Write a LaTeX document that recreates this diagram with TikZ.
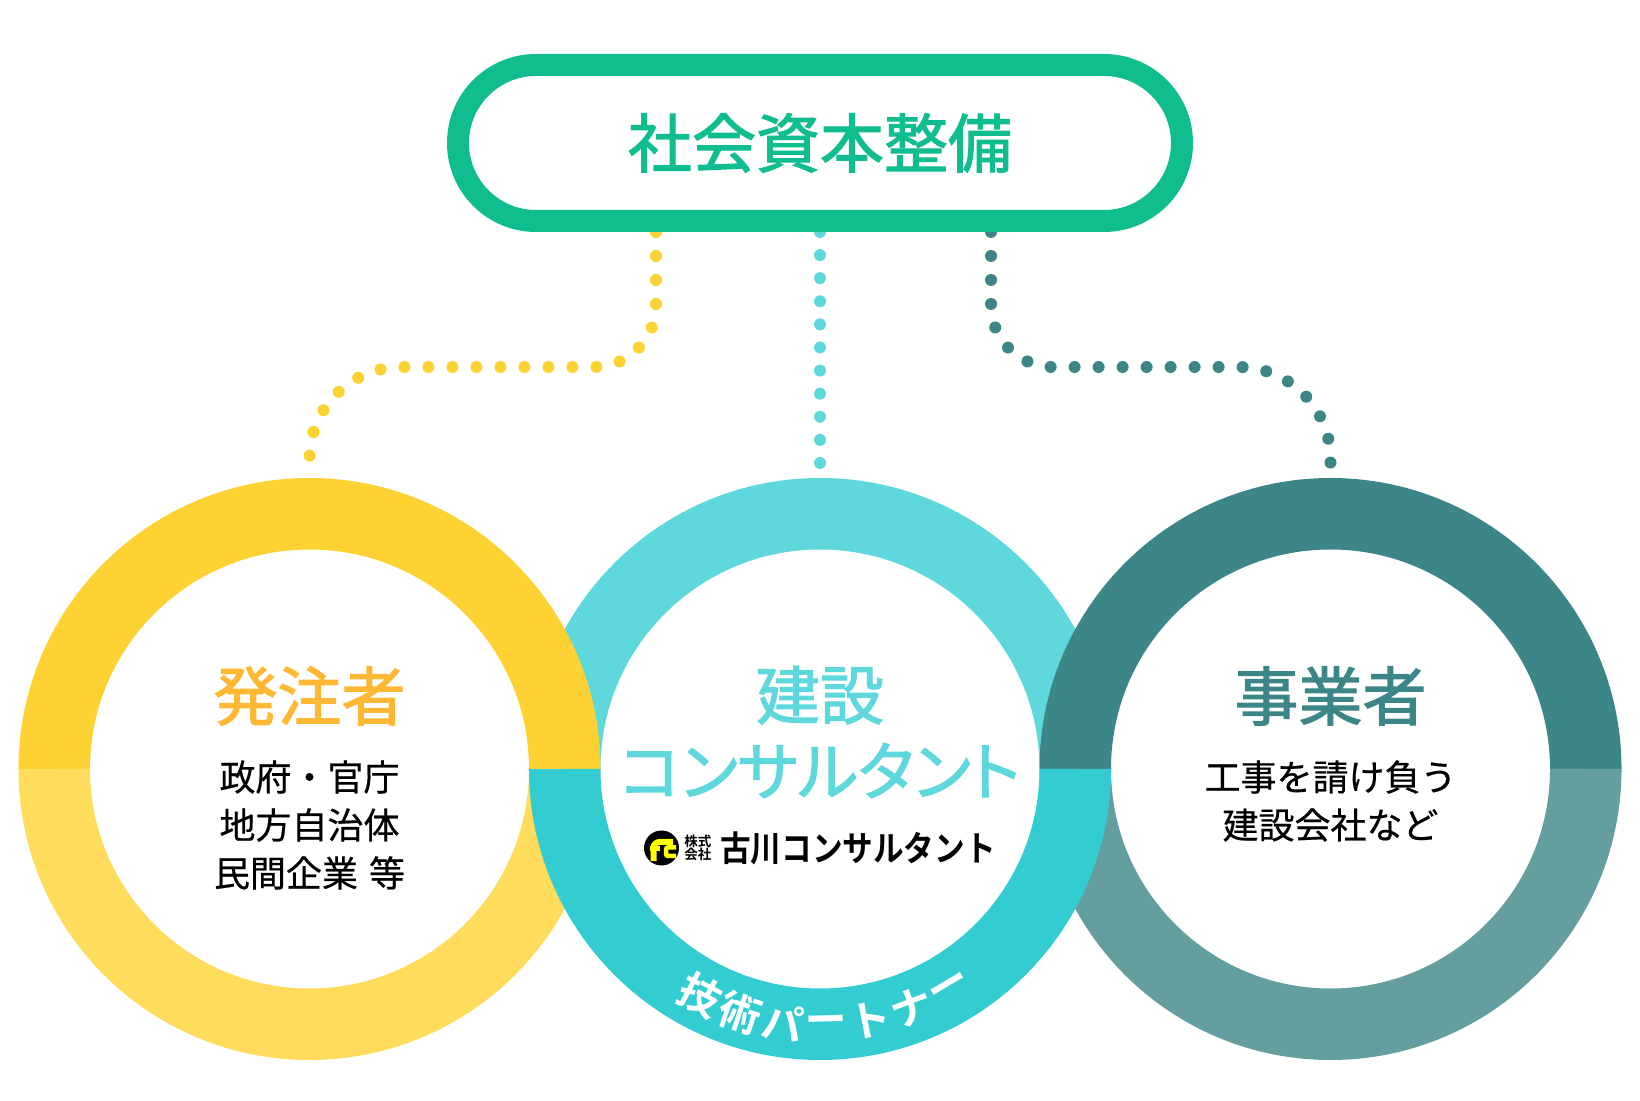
\documentclass[tikz,border=0pt]{standalone}
\usepackage{fontspec}
\usetikzlibrary{positioning,backgrounds}
\newfontfamily\jpmed[RawFeature={+palt},FakeBold=1.8]{Noto Sans CJK JP}
\newfontfamily\jpfull[FakeBold=0.5]{Noto Sans CJK JP}
\newfontfamily\jpbold[BoldFont={Noto Sans CJK JP Bold}]{Noto Sans CJK JP}
\definecolor{pillgreen}{HTML}{0FBD8F}
\definecolor{orgtop}{HTML}{FFD233}
\definecolor{orgbot}{HTML}{FFDC5C}
\definecolor{orgtext}{HTML}{FFB833}
\definecolor{constop}{HTML}{5ED8DC}
\definecolor{consbot}{HTML}{33CDD1}
\definecolor{contop}{HTML}{3D8688}
\definecolor{conbot}{HTML}{649E9F}
\definecolor{logoyellow}{HTML}{FFFF00}
\newcommand{\bigfs}{\fontsize{64}{72}\selectfont}
\newcommand{\smallfs}{\fontsize{36}{48}\selectfont}
\begin{document}
\begin{tikzpicture}
[
x=1pt,y=1pt,
dotline/.style={line width=12pt,line cap=round,dash pattern=on 0pt off #1},
topring/.style={line width=71.5pt,#1},
ringbox/.style={circle,minimum size=582pt,inner sep=0pt},
bigtext/.style={font=\jpmed\bigfs,text=#1},
smalltext/.style={font=\jpfull\smallfs,align=center,text=black},
]
\useasboundingbox (0,0) rectangle (1640,1100);

%Place the nodes
\node[draw=pillgreen,line width=22pt,fill=white,rounded corners=78pt,minimum width=724pt,minimum height=156pt,inner sep=0pt] (pill) at (820,957) {};
\node[ringbox] (hatchu) at (309.5,331) {};
\node[ringbox] (cons) at (820,331) {};
\node[ringbox] (jigyo) at (1330.5,331) {};
\coordinate (ystart) at (656,868);
\coordinate (gstart) at (991,868);

%Draw the connections
\begin{scope}[on background layer]
\draw[dotline=24pt,orgtop,rounded corners=62pt] (ystart) -- (656,733) [rounded corners=92pt] -- (309.5,733) [sharp corners] -- (hatchu.north);
\draw[dotline=23.1pt,constop] (pill.south) -- (cons.north);
\draw[dotline=24pt,contop,rounded corners=62pt] (gstart) -- (991,733) [rounded corners=92pt] -- (1330.5,733) [sharp corners] -- (jigyo.north);
\end{scope}

%Draw the rings
\draw[topring=constop] ([shift={(180:255.25)}]cons) arc (180:0:255.25);
\draw[topring=orgtop] ([shift={(180:255.25)}]hatchu) arc (180:0:255.25);
\draw[topring=contop] ([shift={(180:255.25)}]jigyo) arc (180:0:255.25);
\draw[topring=orgbot] ([shift={(180:255.25)}]hatchu) arc (180:360:255.25);
\draw[topring=conbot] ([shift={(180:255.25)}]jigyo) arc (180:360:255.25);
\draw[topring=consbot] ([shift={(180:255.25)}]cons) arc (180:360:255.25);

%Text
\node[font=\jpmed\bigfs,text=pillgreen] (title) at (820,957) {社会資本整備};
\node[bigtext=orgtext] (hatchutitle) at (309.5,404) {発注者};
\node[smalltext] (hatchubody) at (309.5,275) {政府・官庁\\地方自治体\\民間企業\hspace{3pt} 等};
\node[bigtext=constop,align=center] (constitle) at (820,368) {建設\\[4pt]コンサルタント};
\node[bigtext=contop] (jigyotitle) at (1330.5,404) {事業者};
\node[smalltext] (jigyobody) at (1330.5,299) {工事を請け負う\\建設会社など};

%Arc label
\foreach \ch [count=\i from 0] in {技,術,パ,ー,ト,ナ,ー}
{
\node[font=\jpbold\bfseries\fontsize{42}{42}\selectfont,text=white,inner sep=0pt,rotate={-27.8+9.75*\i}] (arc\i) at ([shift={({-90-27.8+9.75*\i}:256)}]cons) {\ch};
}

%Logo
\node[circle,fill=black,minimum size=35pt,inner sep=0pt] (logomark) at (661.5,252) {};
\draw[logoyellow,line width=6pt,rounded corners=6pt] (653.5,239) -- (653.5,258) -- (673,258);
\draw[logoyellow,line width=5pt] (650,251) -- (660,251);
\draw[logoyellow,line width=4.5pt,rounded corners=2pt] (676,252.5) -- (666,252.5) -- (666,244) -- (676,244);
\node[font=\jpbold\bfseries\fontsize{13.5}{13.5}\selectfont,align=center,right=5pt of logomark.east,inner sep=0pt] (logokabu) {株式\\会社};
\node[font=\jpbold\bfseries\fontsize{35}{35}\selectfont,xscale=0.875,anchor=west,inner sep=0pt] (logoname) at (720,252) {古川コンサルタント};
\end{tikzpicture}
\end{document}
